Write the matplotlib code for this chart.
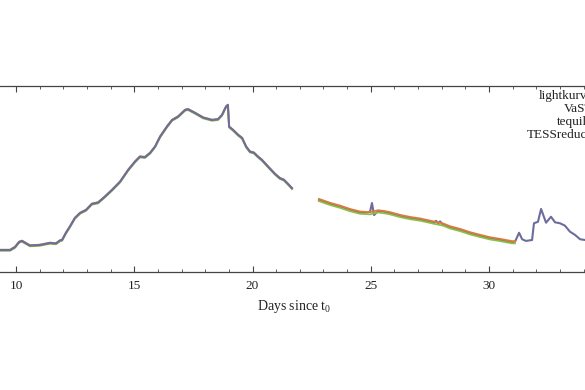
import numpy as np
import matplotlib
matplotlib.use("Agg")
import matplotlib.pyplot as plt
from matplotlib.ticker import MultipleLocator

plt.rcParams['font.family'] = ['Liberation Serif', 'DejaVu Serif']
plt.rcParams['mathtext.fontset'] = 'stix'

# light curve (days since t0, relative flux)
orb1_days = [9.32, 9.75, 9.96, 10.13, 10.25, 10.59, 11.01, 11.44, 11.69, 11.86, 11.95,
             12.11, 12.28, 12.49, 12.71, 12.96, 13.21, 13.47, 13.76, 14.06, 14.40,
             14.74, 15.03, 15.24, 15.45, 15.67, 15.88, 16.09, 16.38, 16.60, 16.85,
             17.15, 17.27, 17.57, 17.91, 18.29, 18.54, 18.71, 18.88, 18.96, 19.01,
             19.18, 19.39, 19.56, 19.73, 19.89, 20.06, 20.23, 20.40, 20.66, 20.95,
             21.16, 21.33, 21.50, 21.67]
orb1_flux = [0.118, 0.118, 0.134, 0.161, 0.167, 0.142, 0.145, 0.156, 0.153, 0.169, 0.172,
             0.210, 0.244, 0.290, 0.317, 0.333, 0.366, 0.373, 0.405, 0.441, 0.485,
             0.548, 0.593, 0.620, 0.617, 0.640, 0.674, 0.727, 0.781, 0.817, 0.835,
             0.871, 0.875, 0.855, 0.830, 0.817, 0.821, 0.844, 0.889, 0.898, 0.781,
             0.763, 0.737, 0.720, 0.674, 0.647, 0.641, 0.620, 0.602, 0.566, 0.527,
             0.504, 0.495, 0.473, 0.450]

# lightkurve second orbit (with the short spikes and the late flares)
lk2_days = [22.81, 23.28, 23.70, 24.12, 24.55, 24.80, 24.97, 25.05, 25.14, 25.31,
            25.56, 25.81, 26.24, 26.66, 27.08, 27.51, 27.65, 27.76, 27.85, 27.93,
            28.06, 28.35, 28.77, 29.20, 29.62, 30.04, 30.47, 30.97, 31.10, 31.27,
            31.40, 31.56, 31.82, 31.90, 32.07, 32.20, 32.41, 32.62, 32.79, 33.00,
            33.21, 33.42, 33.64, 33.85, 34.06]
lk2_flux = [0.387, 0.366, 0.351, 0.333, 0.319, 0.319, 0.324, 0.371, 0.306, 0.328,
            0.324, 0.316, 0.301, 0.290, 0.282, 0.270, 0.262, 0.275, 0.262, 0.272,
            0.253, 0.240, 0.226, 0.208, 0.194, 0.181, 0.172, 0.160, 0.163, 0.211,
            0.176, 0.167, 0.172, 0.262, 0.270, 0.339, 0.265, 0.297, 0.267, 0.262,
            0.249, 0.217, 0.199, 0.176, 0.172]

# the other pipelines in orbit 2 (smooth, stop near day 31.1)
oth2_days = [22.81, 23.28, 23.70, 24.12, 24.55, 24.97, 25.31, 25.56, 25.81, 26.24,
             26.66, 27.08, 27.51, 28.06, 28.35, 28.77, 29.20, 29.62, 30.04, 30.47,
             30.97, 31.10]
oth2_flux = [0.387, 0.366, 0.351, 0.333, 0.319, 0.316, 0.326, 0.322, 0.316, 0.301,
             0.290, 0.282, 0.270, 0.255, 0.240, 0.226, 0.208, 0.194, 0.181, 0.172,
             0.160, 0.160]

# small offsets between the pipelines
vast_off1, tequila_off1 = 0.002, -0.004
vast_off2, tequila_off2 = 0.006, -0.006

labels = ['lightkurve', 'VaST', 'tequila', 'TESSreduce']
c_lk = '#6c6d9c'
c_vast = '#de7b3c'
c_teq = '#8cc043'

fig = plt.figure(figsize=(5.85, 3.9), dpi=100)
# axes wider than the figure, as in the cropped original
ax = fig.add_axes([-0.0333, 0.3026, 1.0714, 0.4769])

o1d = np.array(orb1_days)
o1f = np.array(orb1_flux)
o2d = np.array(oth2_days)
o2f = np.array(oth2_flux)

# orbit 1: the other pipelines sit under lightkurve
ax.plot(o1d, o1f + vast_off1, color=c_vast, lw=1.3, zorder=2)
ax.plot(o1d, o1f + tequila_off1, color=c_teq, lw=1.3, zorder=2)
ax.plot(o1d, o1f, color=c_lk, lw=1.5, zorder=3)

# orbit 2: lightkurve under the others
ax.plot(lk2_days, lk2_flux, color=c_lk, lw=1.5, zorder=2)
ax.plot(o2d, o2f + tequila_off2, color=c_teq, lw=1.3, zorder=3)
ax.plot(o2d, o2f + vast_off2, color=c_vast, lw=1.3, zorder=4)

ax.set_xlim(8.5, 35)
ax.set_ylim(0, 1)

for i, lab in enumerate(labels):
    ax.text(0.977, 0.947 - i * 0.0699, lab, transform=ax.transAxes,
            ha='right', va='center', fontsize=9.5, color='#222222')

ax.xaxis.set_major_locator(MultipleLocator(5))
ax.xaxis.set_minor_locator(MultipleLocator(1))
ax.tick_params(axis='x', which='both', direction='in', top=True, colors='#444444',
               labelcolor='#222222', labelsize=9.5, pad=6)
ax.tick_params(axis='x', which='major', length=4, width=0.8)
ax.tick_params(axis='x', which='minor', length=2, width=0.6)
ax.set_yticks([])
for sp in ax.spines.values():
    sp.set_color('#444444')
    sp.set_linewidth(0.9)

ax.set_xlabel('Days since $\\mathregular{t_0}$', fontsize=10, color='#222222', labelpad=4)

fig.savefig('out.png', dpi=100)
